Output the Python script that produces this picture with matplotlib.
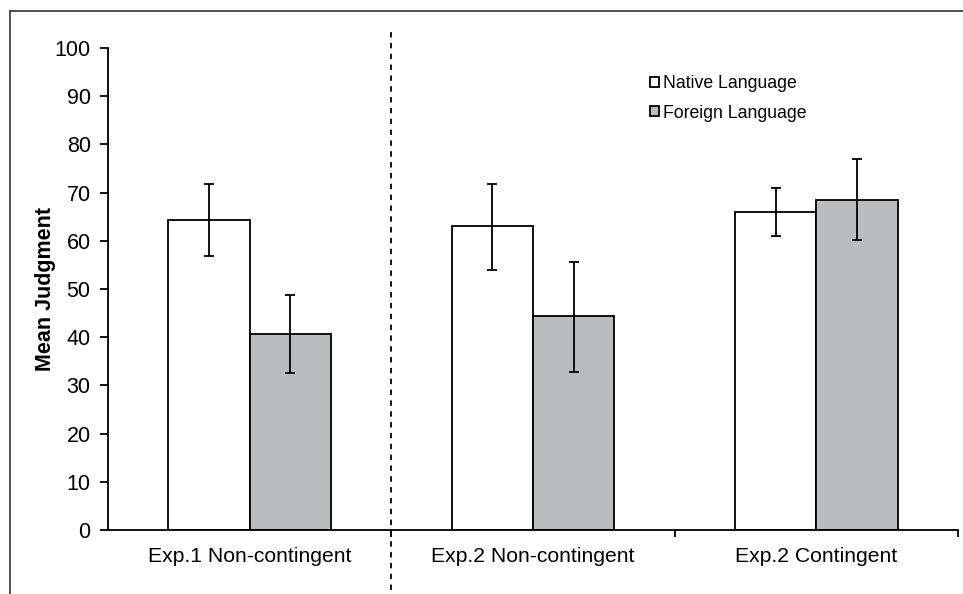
import matplotlib
matplotlib.use("Agg")
import matplotlib.pyplot as plt
from matplotlib.lines import Line2D
import numpy as np

plt.rcParams["font.family"] = ["Liberation Sans", "DejaVu Sans"]

groups = ["Exp.1 Non-contingent", "Exp.2 Non-contingent", "Exp.2 Contingent"]
native = [64.3, 63.0, 66.0]
native_hi = [71.7, 71.8, 70.9]
native_lo = [56.9, 53.9, 60.9]
foreign = [40.7, 44.3, 68.5]
foreign_hi = [48.7, 55.7, 77.0]
foreign_lo = [32.5, 32.7, 60.2]

fig = plt.figure(figsize=(9.63, 5.94), dpi=100)
ax = fig.add_axes([108 / 963, 1 - 530 / 594, 850 / 963, 482 / 594])

x = np.arange(len(groups))
w = 0.2875
lw = 1.3


def err(vals, hi, lo):
    v = np.array(vals)
    return [v - np.array(lo), np.array(hi) - v]


ax.bar(x - w / 2, native, w, color="white", edgecolor="black", linewidth=lw,
       label="Native Language", zorder=2)
ax.bar(x + w / 2, foreign, w, color="#bbbcbe", edgecolor="black", linewidth=lw,
       label="Foreign Language", zorder=2)
ax.errorbar(x - w / 2, native, yerr=err(native, native_hi, native_lo), fmt="none",
            ecolor="black", elinewidth=lw, capsize=3.5, capthick=lw, zorder=3)
ax.errorbar(x + w / 2, foreign, yerr=err(foreign, foreign_hi, foreign_lo), fmt="none",
            ecolor="black", elinewidth=lw, capsize=3.5, capthick=lw, zorder=3)

ax.set_xlim(-0.5, len(groups) - 0.5)
ax.set_ylim(0, 100)
ax.set_yticks(range(0, 101, 10))
ax.tick_params(axis="y", labelsize=15.5, length=5.5, width=lw, pad=7)

# ticks at group boundaries, labels at group centres
ax.set_xticks(list(x[:-1] + 0.5) + [len(groups) - 0.5])
ax.set_xticklabels([])
ax.set_xticks(x, minor=True)
ax.set_xticklabels(groups, minor=True)
ax.tick_params(axis="x", which="major", length=5, width=lw, direction="out")
ax.tick_params(axis="x", which="minor", length=0, labelsize=15.2, pad=12)

for s in ["top", "right"]:
    ax.spines[s].set_visible(False)
for s in ["left", "bottom"]:
    ax.spines[s].set_linewidth(lw)

ax.set_ylabel("Mean Judgment", fontsize=15.5, fontweight="bold", labelpad=-1.3)

ax.axvline(0.5, ymin=-0.124, ymax=1.044, color="black", linestyle=(0, (3, 3)),
           linewidth=1.3, clip_on=False)

leg = ax.legend(loc="upper left", bbox_to_anchor=(641 / 963, 1 - 66 / 594),
                bbox_transform=fig.transFigure, frameon=False, fontsize=12.7,
                handlelength=0.5, handleheight=0.5, handletextpad=0.25,
                labelspacing=0.72, borderpad=0)
for h in leg.legend_handles:
    h.set_linewidth(1.3)

# outer frame of the figure (top and left only)
fig.add_artist(Line2D([10 / 963, 1], [1 - 11 / 594, 1 - 11 / 594],
                      transform=fig.transFigure, color="#444444", linewidth=1.3))
fig.add_artist(Line2D([10 / 963, 10 / 963], [0, 1 - 11 / 594],
                      transform=fig.transFigure, color="#444444", linewidth=1.3))

fig.savefig("out.png", dpi=100)
